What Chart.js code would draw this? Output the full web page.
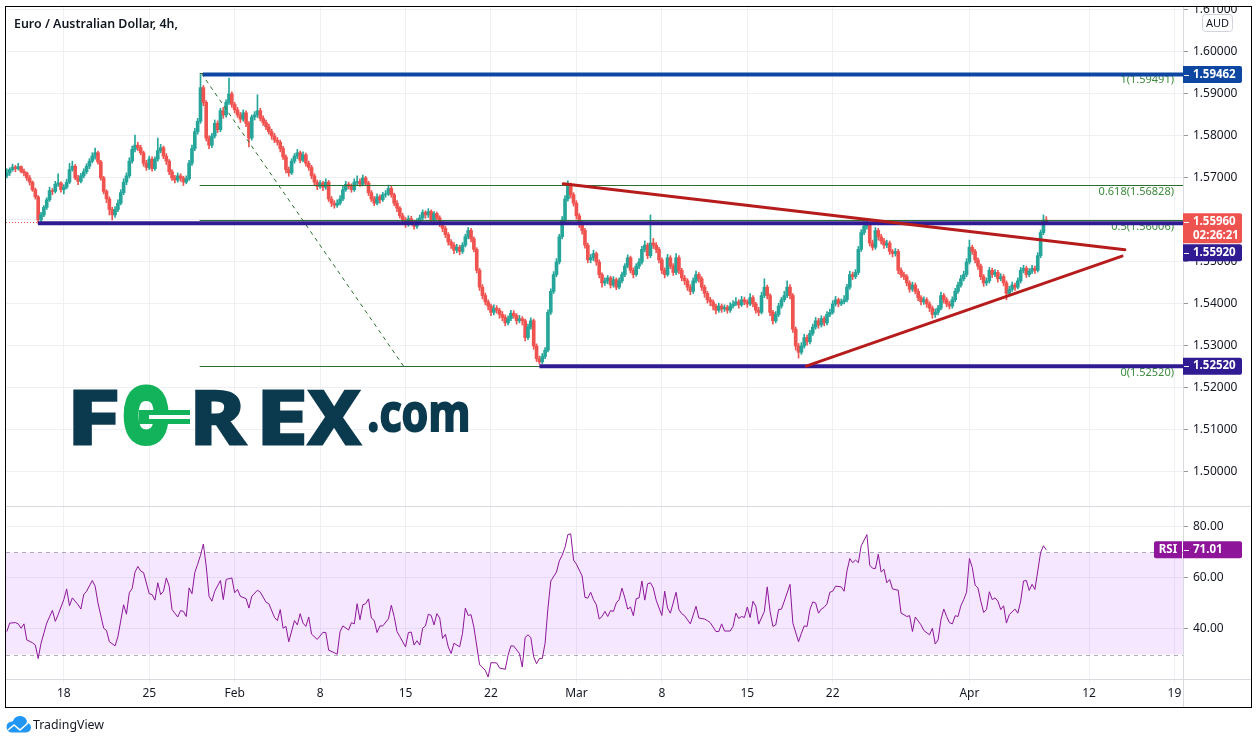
<!DOCTYPE html>
<html>
<head>
<meta charset="utf-8">
<title>Euro / Australian Dollar, 4h</title>
<script src="https://cdn.jsdelivr.net/npm/chart.js@4.4.1/dist/chart.umd.min.js"></script>
<style>
  html, body { margin: 0; padding: 0; background: #fff; }
  canvas { display: block; }
</style>
</head>
<body>
<canvas id="chart" width="1258" height="744"></canvas>
<script>
// EUR/AUD 4h candles, bar 0 = first visible bar (mid Jan)
const opens = [
  1.5705,1.5712,1.5720,1.5726,1.5722,1.5727,1.5716,1.5712,1.5700,1.5690,
  1.5672,1.5655,1.5600,1.5612,1.5630,1.5648,1.5670,1.5668,1.5685,1.5688,
  1.5672,1.5678,1.5690,1.5720,1.5728,1.5700,1.5692,1.5705,1.5715,1.5728,
  1.5740,1.5752,1.5760,1.5738,1.5700,1.5668,1.5650,1.5625,1.5612,1.5625,
  1.5640,1.5665,1.5690,1.5705,1.5740,1.5768,1.5778,1.5772,1.5760,1.5735,
  1.5725,1.5745,1.5722,1.5745,1.5765,1.5772,1.5752,1.5740,1.5715,1.5700,
  1.5695,1.5705,1.5700,1.5690,1.5698,1.5735,1.5770,1.5810,1.5835,1.5915,
  1.5880,1.5795,1.5778,1.5800,1.5830,1.5815,1.5860,1.5850,1.5880,1.5900,
  1.5875,1.5862,1.5850,1.5840,1.5855,1.5830,1.5795,1.5845,1.5850,1.5860,
  1.5842,1.5832,1.5822,1.5810,1.5800,1.5790,1.5785,1.5770,1.5750,1.5720,
  1.5712,1.5740,1.5752,1.5760,1.5742,1.5755,1.5735,1.5725,1.5705,1.5690,
  1.5680,1.5688,1.5678,1.5690,1.5650,1.5640,1.5635,1.5640,1.5650,1.5672,
  1.5685,1.5680,1.5672,1.5690,1.5692,1.5685,1.5700,1.5688,1.5665,1.5650,
  1.5640,1.5655,1.5648,1.5660,1.5662,1.5675,1.5660,1.5640,1.5628,1.5610,
  1.5600,1.5590,1.5603,1.5595,1.5585,1.5596,1.5605,1.5618,1.5612,1.5620,
  1.5600,1.5615,1.5605,1.5590,1.5580,1.5565,1.5548,1.5540,1.5528,1.5535,
  1.5525,1.5540,1.5560,1.5575,1.5555,1.5530,1.5480,1.5440,1.5420,1.5405,
  1.5395,1.5380,1.5390,1.5385,1.5375,1.5368,1.5355,1.5365,1.5378,1.5372,
  1.5360,1.5365,1.5360,1.5320,1.5345,1.5360,1.5300,1.5270,1.5262,1.5275,
  1.5290,1.5380,1.5430,1.5470,1.5500,1.5560,1.5600,1.5650,1.5680,1.5660,
  1.5640,1.5610,1.5590,1.5575,1.5540,1.5505,1.5510,1.5520,1.5500,1.5470,
  1.5450,1.5455,1.5462,1.5445,1.5458,1.5440,1.5455,1.5470,1.5490,1.5510,
  1.5480,1.5470,1.5490,1.5500,1.5530,1.5540,1.5515,1.5545,1.5540,1.5530,
  1.5505,1.5480,1.5470,1.5510,1.5490,1.5475,1.5510,1.5480,1.5462,1.5455,
  1.5440,1.5430,1.5455,1.5470,1.5460,1.5440,1.5425,1.5410,1.5405,1.5395,
  1.5385,1.5395,1.5388,1.5392,1.5385,1.5395,1.5400,1.5405,1.5398,1.5410,
  1.5405,1.5400,1.5415,1.5400,1.5385,1.5380,1.5420,1.5440,1.5420,1.5380,
  1.5360,1.5375,1.5395,1.5410,1.5420,1.5440,1.5420,1.5340,1.5300,1.5285,
  1.5300,1.5320,1.5310,1.5330,1.5345,1.5360,1.5350,1.5365,1.5355,1.5375,
  1.5380,1.5400,1.5410,1.5400,1.5405,1.5410,1.5440,1.5470,1.5465,1.5475,
  1.5530,1.5570,1.5585,1.5590,1.5545,1.5535,1.5575,1.5560,1.5550,1.5540,
  1.5545,1.5525,1.5520,1.5525,1.5480,1.5470,1.5465,1.5450,1.5435,1.5445,
  1.5430,1.5415,1.5405,1.5410,1.5400,1.5390,1.5375,1.5380,1.5390,1.5420,
  1.5410,1.5400,1.5395,1.5410,1.5430,1.5445,1.5460,1.5470,1.5500,1.5535,
  1.5525,1.5505,1.5490,1.5465,1.5450,1.5455,1.5480,1.5470,1.5475,1.5460,
  1.5465,1.5450,1.5425,1.5435,1.5445,1.5440,1.5455,1.5480,1.5485,1.5470,
  1.5478,1.5485,1.5480,1.5515,1.5570,1.5600
];
const highs = [
  1.5722,1.5724,1.5733,1.5730,1.5735,1.5729,1.5721,1.5714,1.5706,1.5693,
  1.5676,1.5658,1.5618,1.5634,1.5653,1.5678,1.5675,1.5692,1.5710,1.5691,
  1.5684,1.5697,1.5735,1.5740,1.5732,1.5706,1.5711,1.5722,1.5734,1.5746,
  1.5760,1.5771,1.5764,1.5742,1.5704,1.5672,1.5655,1.5630,1.5632,1.5648,
  1.5672,1.5698,1.5712,1.5748,1.5776,1.5802,1.5785,1.5778,1.5764,1.5742,
  1.5752,1.5750,1.5750,1.5795,1.5780,1.5776,1.5758,1.5744,1.5720,1.5706,
  1.5712,1.5710,1.5704,1.5705,1.5742,1.5778,1.5818,1.5842,1.5946,1.5920,
  1.5884,1.5800,1.5806,1.5838,1.5836,1.5866,1.5868,1.5886,1.5938,1.5905,
  1.5880,1.5868,1.5856,1.5862,1.5860,1.5834,1.5850,1.5858,1.5898,1.5866,
  1.5848,1.5838,1.5828,1.5816,1.5806,1.5796,1.5790,1.5775,1.5755,1.5726,
  1.5746,1.5758,1.5768,1.5764,1.5762,1.5759,1.5740,1.5730,1.5710,1.5695,
  1.5694,1.5692,1.5698,1.5694,1.5656,1.5646,1.5648,1.5658,1.5680,1.5692,
  1.5690,1.5686,1.5698,1.5705,1.5698,1.5707,1.5704,1.5692,1.5670,1.5656,
  1.5662,1.5660,1.5666,1.5670,1.5683,1.5680,1.5664,1.5646,1.5632,1.5616,
  1.5606,1.5610,1.5609,1.5600,1.5603,1.5612,1.5624,1.5622,1.5627,1.5624,
  1.5620,1.5619,1.5610,1.5596,1.5585,1.5570,1.5553,1.5546,1.5542,1.5540,
  1.5546,1.5566,1.5582,1.5580,1.5560,1.5534,1.5485,1.5446,1.5426,1.5410,
  1.5400,1.5398,1.5396,1.5390,1.5382,1.5374,1.5372,1.5385,1.5384,1.5377,
  1.5373,1.5370,1.5364,1.5352,1.5367,1.5364,1.5305,1.5276,1.5282,1.5296,
  1.5386,1.5436,1.5477,1.5508,1.5566,1.5608,1.5658,1.5693,1.5688,1.5665,
  1.5646,1.5615,1.5596,1.5580,1.5545,1.5518,1.5528,1.5524,1.5505,1.5474,
  1.5462,1.5468,1.5466,1.5465,1.5462,1.5462,1.5476,1.5496,1.5517,1.5514,
  1.5486,1.5496,1.5508,1.5537,1.5550,1.5545,1.5612,1.5556,1.5546,1.5535,
  1.5510,1.5486,1.5518,1.5515,1.5496,1.5520,1.5515,1.5485,1.5468,1.5460,
  1.5446,1.5462,1.5478,1.5475,1.5465,1.5445,1.5430,1.5416,1.5410,1.5400,
  1.5402,1.5400,1.5398,1.5397,1.5403,1.5408,1.5415,1.5410,1.5418,1.5416,
  1.5410,1.5425,1.5420,1.5404,1.5392,1.5428,1.5460,1.5445,1.5424,1.5385,
  1.5382,1.5402,1.5416,1.5430,1.5455,1.5446,1.5425,1.5345,1.5306,1.5308,
  1.5328,1.5326,1.5337,1.5352,1.5368,1.5366,1.5372,1.5370,1.5382,1.5388,
  1.5408,1.5418,1.5414,1.5412,1.5420,1.5447,1.5478,1.5476,1.5482,1.5537,
  1.5577,1.5601,1.5598,1.5594,1.5552,1.5582,1.5580,1.5566,1.5556,1.5552,
  1.5550,1.5530,1.5532,1.5530,1.5486,1.5476,1.5470,1.5455,1.5452,1.5450,
  1.5436,1.5420,1.5417,1.5415,1.5405,1.5395,1.5388,1.5397,1.5428,1.5425,
  1.5415,1.5406,1.5417,1.5437,1.5452,1.5468,1.5478,1.5508,1.5552,1.5540,
  1.5530,1.5510,1.5495,1.5470,1.5462,1.5487,1.5485,1.5482,1.5480,1.5472,
  1.5470,1.5455,1.5442,1.5452,1.5450,1.5462,1.5487,1.5492,1.5490,1.5484,
  1.5492,1.5490,1.5522,1.5576,1.5612,1.5608
];
const lows = [
  1.5700,1.5706,1.5716,1.5715,1.5719,1.5712,1.5705,1.5694,1.5683,1.5668,
  1.5650,1.5592,1.5596,1.5608,1.5625,1.5644,1.5660,1.5664,1.5680,1.5666,
  1.5662,1.5674,1.5686,1.5716,1.5696,1.5684,1.5688,1.5700,1.5710,1.5722,
  1.5736,1.5745,1.5733,1.5695,1.5662,1.5641,1.5612,1.5600,1.5606,1.5620,
  1.5636,1.5660,1.5684,1.5700,1.5735,1.5762,1.5765,1.5755,1.5728,1.5718,
  1.5720,1.5716,1.5718,1.5740,1.5760,1.5746,1.5732,1.5708,1.5694,1.5688,
  1.5690,1.5692,1.5682,1.5686,1.5694,1.5730,1.5765,1.5804,1.5830,1.5872,
  1.5788,1.5770,1.5772,1.5795,1.5808,1.5810,1.5842,1.5845,1.5875,1.5868,
  1.5855,1.5844,1.5832,1.5835,1.5822,1.5774,1.5790,1.5838,1.5844,1.5836,
  1.5825,1.5815,1.5804,1.5792,1.5784,1.5778,1.5762,1.5744,1.5712,1.5704,
  1.5708,1.5735,1.5746,1.5736,1.5738,1.5728,1.5718,1.5698,1.5684,1.5672,
  1.5675,1.5670,1.5673,1.5644,1.5632,1.5628,1.5630,1.5636,1.5646,1.5668,
  1.5674,1.5666,1.5668,1.5684,1.5680,1.5681,1.5682,1.5658,1.5644,1.5634,
  1.5636,1.5640,1.5644,1.5654,1.5658,1.5654,1.5634,1.5620,1.5604,1.5594,
  1.5582,1.5585,1.5588,1.5578,1.5580,1.5591,1.5600,1.5604,1.5606,1.5594,
  1.5596,1.5598,1.5584,1.5572,1.5558,1.5540,1.5532,1.5520,1.5522,1.5517,
  1.5520,1.5536,1.5555,1.5548,1.5524,1.5474,1.5432,1.5412,1.5398,1.5386,
  1.5372,1.5374,1.5378,1.5366,1.5360,1.5348,1.5350,1.5360,1.5366,1.5352,
  1.5355,1.5350,1.5312,1.5315,1.5340,1.5292,1.5263,1.5257,1.5258,1.5270,
  1.5286,1.5375,1.5425,1.5465,1.5495,1.5555,1.5594,1.5645,1.5652,1.5633,
  1.5602,1.5582,1.5566,1.5533,1.5498,1.5498,1.5503,1.5492,1.5462,1.5440,
  1.5444,1.5448,1.5438,1.5440,1.5434,1.5436,1.5450,1.5465,1.5486,1.5474,
  1.5462,1.5466,1.5484,1.5495,1.5524,1.5508,1.5510,1.5532,1.5522,1.5498,
  1.5472,1.5462,1.5466,1.5484,1.5468,1.5470,1.5472,1.5455,1.5446,1.5432,
  1.5422,1.5425,1.5450,1.5452,1.5432,1.5416,1.5402,1.5396,1.5386,1.5376,
  1.5380,1.5380,1.5382,1.5378,1.5380,1.5390,1.5396,1.5390,1.5394,1.5398,
  1.5392,1.5396,1.5393,1.5378,1.5372,1.5376,1.5415,1.5412,1.5372,1.5352,
  1.5355,1.5370,1.5390,1.5405,1.5415,1.5412,1.5332,1.5290,1.5271,1.5280,
  1.5295,1.5302,1.5305,1.5325,1.5340,1.5342,1.5345,1.5348,1.5350,1.5370,
  1.5376,1.5395,1.5393,1.5396,1.5400,1.5405,1.5435,1.5458,1.5460,1.5470,
  1.5525,1.5565,1.5578,1.5538,1.5528,1.5530,1.5552,1.5543,1.5532,1.5534,
  1.5518,1.5512,1.5514,1.5472,1.5463,1.5458,1.5443,1.5428,1.5430,1.5424,
  1.5408,1.5398,1.5399,1.5392,1.5382,1.5366,1.5368,1.5374,1.5386,1.5402,
  1.5393,1.5388,1.5390,1.5405,1.5425,1.5440,1.5455,1.5465,1.5495,1.5518,
  1.5498,1.5482,1.5458,1.5442,1.5444,1.5450,1.5463,1.5465,1.5452,1.5455,
  1.5443,1.5410,1.5420,1.5430,1.5432,1.5436,1.5450,1.5474,1.5463,1.5465,
  1.5472,1.5473,1.5476,1.5510,1.5565,1.5592
];
const closes = [
  1.5712,1.5720,1.5726,1.5722,1.5727,1.5716,1.5712,1.5700,1.5690,1.5672,
  1.5655,1.5600,1.5612,1.5630,1.5648,1.5670,1.5668,1.5685,1.5688,1.5672,
  1.5678,1.5690,1.5720,1.5728,1.5700,1.5692,1.5705,1.5715,1.5728,1.5740,
  1.5752,1.5760,1.5738,1.5700,1.5668,1.5650,1.5625,1.5612,1.5625,1.5640,
  1.5665,1.5690,1.5705,1.5740,1.5768,1.5778,1.5772,1.5760,1.5735,1.5725,
  1.5745,1.5722,1.5745,1.5765,1.5772,1.5752,1.5740,1.5715,1.5700,1.5695,
  1.5705,1.5700,1.5690,1.5698,1.5735,1.5770,1.5810,1.5835,1.5915,1.5880,
  1.5795,1.5778,1.5800,1.5830,1.5815,1.5860,1.5850,1.5880,1.5900,1.5875,
  1.5862,1.5850,1.5840,1.5855,1.5830,1.5795,1.5845,1.5850,1.5860,1.5842,
  1.5832,1.5822,1.5810,1.5800,1.5790,1.5785,1.5770,1.5750,1.5720,1.5712,
  1.5740,1.5752,1.5760,1.5742,1.5755,1.5735,1.5725,1.5705,1.5690,1.5680,
  1.5688,1.5678,1.5690,1.5650,1.5640,1.5635,1.5640,1.5650,1.5672,1.5685,
  1.5680,1.5672,1.5690,1.5692,1.5685,1.5700,1.5688,1.5665,1.5650,1.5640,
  1.5655,1.5648,1.5660,1.5662,1.5675,1.5660,1.5640,1.5628,1.5610,1.5600,
  1.5590,1.5603,1.5595,1.5585,1.5596,1.5605,1.5618,1.5612,1.5620,1.5600,
  1.5615,1.5605,1.5590,1.5580,1.5565,1.5548,1.5540,1.5528,1.5535,1.5525,
  1.5540,1.5560,1.5575,1.5555,1.5530,1.5480,1.5440,1.5420,1.5405,1.5395,
  1.5380,1.5390,1.5385,1.5375,1.5368,1.5355,1.5365,1.5378,1.5372,1.5360,
  1.5365,1.5360,1.5320,1.5345,1.5360,1.5300,1.5270,1.5262,1.5275,1.5290,
  1.5380,1.5430,1.5470,1.5500,1.5560,1.5600,1.5650,1.5680,1.5660,1.5640,
  1.5610,1.5590,1.5575,1.5540,1.5505,1.5510,1.5520,1.5500,1.5470,1.5450,
  1.5455,1.5462,1.5445,1.5458,1.5440,1.5455,1.5470,1.5490,1.5510,1.5480,
  1.5470,1.5490,1.5500,1.5530,1.5540,1.5515,1.5545,1.5540,1.5530,1.5505,
  1.5480,1.5470,1.5510,1.5490,1.5475,1.5510,1.5480,1.5462,1.5455,1.5440,
  1.5430,1.5455,1.5470,1.5460,1.5440,1.5425,1.5410,1.5405,1.5395,1.5385,
  1.5395,1.5388,1.5392,1.5385,1.5395,1.5400,1.5405,1.5398,1.5410,1.5405,
  1.5400,1.5415,1.5400,1.5385,1.5380,1.5420,1.5440,1.5420,1.5380,1.5360,
  1.5375,1.5395,1.5410,1.5420,1.5440,1.5420,1.5340,1.5300,1.5285,1.5300,
  1.5320,1.5310,1.5330,1.5345,1.5360,1.5350,1.5365,1.5355,1.5375,1.5380,
  1.5400,1.5410,1.5400,1.5405,1.5410,1.5440,1.5470,1.5465,1.5475,1.5530,
  1.5570,1.5585,1.5590,1.5545,1.5535,1.5575,1.5560,1.5550,1.5540,1.5545,
  1.5525,1.5520,1.5525,1.5480,1.5470,1.5465,1.5450,1.5435,1.5445,1.5430,
  1.5415,1.5405,1.5410,1.5400,1.5390,1.5375,1.5380,1.5390,1.5420,1.5410,
  1.5400,1.5395,1.5410,1.5430,1.5445,1.5460,1.5470,1.5500,1.5535,1.5525,
  1.5505,1.5490,1.5465,1.5450,1.5455,1.5480,1.5470,1.5475,1.5460,1.5465,
  1.5450,1.5425,1.5435,1.5445,1.5440,1.5455,1.5480,1.5485,1.5470,1.5478,
  1.5485,1.5480,1.5515,1.5570,1.5600,1.5596
];

// RSI(14) readings, sampled along the line
const rsiBars = [
  0,1,3,4,5,6,7,9,10,11,12,14,16,17,18,20,21,22,23,25,26,27,28,30,31,32,34,35,36,38,39,
  41,42,43,44,45,46,47,48,50,51,52,53,54,55,56,57,58,60,61,62,63,64,65,66,67,68,69,70,
  71,72,73,75,76,77,79,80,81,82,84,85,86,88,89,91,92,94,95,96,97,98,99,101,102,103,104,
  105,106,107,109,111,112,113,115,116,117,118,120,121,122,123,124,125,126,127,128,129,
  130,131,132,134,135,136,137,138,140,141,142,143,144,145,146,147,148,149,150,151,152,
  153,154,155,156,157,159,160,161,162,163,164,166,168,169,170,172,173,175,176,177,178,
  180,181,182,183,184,185,186,187,188,189,190,191,193,194,195,196,197,198,199,200,202,
  203,204,205,206,207,208,209,210,211,212,213,214,215,216,217,218,219,220,221,222,223,
  224,225,226,227,228,230,231,232,233,235,236,237,238,240,242,243,245,246,247,249,250,
  251,252,254,255,256,257,258,259,260,261,262,263,264,266,267,268,269,270,271,272,273,
  275,276,278,279,280,281,282,283,284,285,286,287,288,289,290,291,293,294,295,296,297,
  298,299,300,302,303,304,305,306,307,308,309,310,311,313,314,315,316,317,318,319,321,
  322,324,325,326,327,328,329,330,331,332,333,334,335,336,337,338,339,340,341,342,343,
  344,345,346,347,348,349,350,351,352,354,355,356,357,358,359,360,361,362,363,364,365
];
const rsiValues = [
  39,42.3,42.5,42,40.3,42,35.7,34.6,33.7,28.4,34.4,42.3,47.3,43,45.6,51.5,55.7,49.1,52.2,49.5,47.8,53.5,54.8,59,56.8,50.2,40.3,39.4,35,33.4,37,
  49.5,45.8,54.2,55.9,62.3,64.5,62.7,62.1,53.8,53.5,51.3,58.1,53.5,54.8,60,56.8,47.6,44.7,47.2,46.9,44.9,56.1,53.8,62.1,65.4,68.9,73.3,64.7,
  52.8,50.9,54.8,59,51.5,59.4,60,54.2,55.5,52.8,51.9,48.2,52.8,55.2,54.4,50.5,49.9,44.5,43.3,47.6,40.3,41,35,43.3,41.6,46,42.3,
  41,44.7,38,35.9,38.7,38.6,31.7,30.7,30.1,39,41.2,39.6,42.5,42,49.9,43.6,49.5,49.9,51.8,44.3,43.3,
  38.6,41.2,41.2,44,49.3,44.9,39,37,33,38.6,38.8,33.7,35.4,33.7,40.3,41.2,45.8,45.3,41.6,46,44.3,
  36.3,37.9,33,30.4,34.4,33,38.3,48.2,45.3,45.6,40.7,26,23.8,21.2,26.8,26.7,24.7,24.2,29.7,33.4,33.3,
  30.4,25.1,36.7,37.7,36.6,29.1,26.4,28.4,28.4,34.4,48.2,58.8,62.3,66.7,68.9,72,77,77.3,67,65.4,60.8,
  52.4,52.1,54.4,51.5,49.5,43.9,44.9,46.9,44.9,47.2,46.9,50.2,51.5,56,52.2,47.8,48.6,45.2,51.9,52.2,58.8,
  51.3,57.7,58.1,56.1,51.3,45.3,54.8,48.2,46.2,54.4,47.6,46,45.2,42,48.9,44.3,43.9,43.3,42.5,39,39,
  42,39.2,39.2,41,46.2,44.1,44.9,44.5,48.6,44.5,50.9,48.9,41.9,46.9,56.5,46.9,41,41.6,47.6,47.8,50.9,
  57.5,42.3,35,38.3,41.2,41,47.6,50.6,50.2,46.2,47.8,48.5,49.9,54.4,54.8,56.8,56.5,54.8,62.7,67.6,66,
  67,66,72.6,77,65,63.8,63.7,69.3,62.3,63.4,58.1,59.4,55.7,55.2,46.2,45.6,44.9,45.2,39,44.7,41.6,
  39.4,37.7,40.3,34.1,35.7,43.6,47.8,44.9,42.5,42,45.2,44.9,49.1,51.5,54.4,67.6,64.1,57.2,56.1,50.9,46.5,
  47.6,54.6,51.5,52.2,50.9,47.6,49.1,42.3,45.6,47.8,46.2,50.9,58.8,59,55.1,57.5,55.5,62.7,70,72.6,71.01
];

const dateTickBars = [20, 50, 80, 110, 140, 170, 200, 230, 260, 290, 338, 380, 410];
const dateTickLabels = ['18', '25', 'Feb', '8', '15', '22', 'Mar', '8', '15', '22', 'Apr', '12', '19'];
const priceTicks = [1.50, 1.51, 1.52, 1.53, 1.54, 1.55, 1.56, 1.57, 1.58, 1.59, 1.60, 1.61];
const rsiTicks = [40, 60, 80];

const barAxisMin = -0.3, barAxisMax = 413;
const priceAxisMin = 1.4919, priceAxisMax = 1.6107;
const rsiAxisMin = 20.4, rsiAxisMax = 88.2;
const rsiUpper = 70, rsiLower = 30;

// drawings
const lastPrice = 1.5596, countdown = '02:26:21';
const fibLevels = [1, 0.618, 0.5, 0];
const fibPrices = [1.59491, 1.56828, 1.56006, 1.52520];
const fibStartBar = 67.7;
const fibDiagonal = [[68.3, 1.59491], [139.3, 1.52520]];
const rays = [
  { price: 1.5592, from: 10.9, color: '#311b92' },
  { price: 1.59462, from: 68.8, color: '#0d47a1' },
  { price: 1.5252, from: 187, color: '#311b92' }
];
const trendLines = [
  [[195.4, 1.5686], [392.6, 1.5529]],
  [[280.7, 1.5252], [391.6, 1.5514]]
];
const lastRsi = 71.01;

Chart.defaults.font.family = '"Noto Sans", sans-serif';

const upColor = '#26a69a', downColor = '#ef5350';
const candleColors = closes.map((c, i) => (c >= opens[i] ? upColor : downColor));
const wickPoints = closes.map((c, i) => ({ x: i, y: [lows[i], highs[i]] }));
const bodyPoints = closes.map((c, i) => ({ x: i, y: [opens[i], c] }));
const rsiPoints = rsiBars.map((b, k) => ({ x: b, y: rsiValues[k] }));

function strokeLine(ctx, x0, y0, x1, y1) {
  ctx.beginPath();
  ctx.moveTo(x0, y0);
  ctx.lineTo(x1, y1);
  ctx.stroke();
}

// draws txt so its ink spans left..right, optionally thickened with a stroke
function stretchText(ctx, txt, left, right, baseline, weight) {
  const m = ctx.measureText(txt);
  const ink = m.actualBoundingBoxLeft + m.actualBoundingBoxRight;
  const sx = (right - left) / ink;
  ctx.save();
  ctx.translate(left + m.actualBoundingBoxLeft * sx, baseline);
  ctx.scale(sx, 1);
  ctx.fillText(txt, 0, 0);
  if (weight) {
    ctx.lineWidth = weight;
    ctx.lineJoin = 'miter';
    ctx.strokeStyle = ctx.fillStyle;
    ctx.strokeText(txt, 0, 0);
  }
  ctx.restore();
}

function priceTag(ctx, left, top, h, bg, lines) {
  ctx.fillStyle = bg;
  ctx.beginPath();
  ctx.roundRect(left, top, 59, h, [0, 2, 2, 0]);
  ctx.fill();
  const yc = top + 8.5;
  ctx.strokeStyle = '#fff';
  ctx.lineWidth = 1;
  strokeLine(ctx, left + 1, Math.round(yc) + 0.5, left + 6, Math.round(yc) + 0.5);
  ctx.fillStyle = '#fff';
  ctx.font = 'bold 11.5px "Noto Sans"';
  ctx.textAlign = 'left';
  ctx.textBaseline = 'middle';
  lines.forEach((t, k) => ctx.fillText(t, left + 10, yc + k * 14));
}

function drawForexLogo(ctx) {
  const navy = '#0b3a4e', green = '#12b35a';
  ctx.save();
  ctx.font = 'bold 74px "Noto Sans"';
  ctx.textAlign = 'left';
  ctx.textBaseline = 'alphabetic';
  const letters = [['F', 73, 117, navy, 3], ['O', 123, 170, green, 7], ['R', 195, 247, navy, 3],
                   ['E', 262, 305, navy, 3], ['X', 307, 362, navy, 3]];
  letters.forEach(([t, l, r, c, w]) => {
    ctx.fillStyle = c;
    stretchText(ctx, t, l + w / 2, r - w / 2, 445 - w / 2, w);
  });
  // the "=" stroke through the O
  ctx.fillStyle = green;
  ctx.fillRect(139, 410, 51, 14);
  ctx.fillStyle = '#fff';
  ctx.fillRect(149, 415, 42, 4);
  ctx.fillStyle = navy;
  ctx.font = 'bold 52px "Noto Sans"';
  stretchText(ctx, '.com', 369, 468, 431, 2);
  ctx.restore();
}

function drawTradingViewLogo(ctx) {
  ctx.save();
  ctx.fillStyle = '#2196f3';
  ctx.beginPath();
  ctx.arc(12, 727, 5.5, Math.PI * 0.5, Math.PI * 1.5);
  ctx.arc(20, 723.5, 7.5, Math.PI * 1.1, Math.PI * 1.9);
  ctx.arc(26, 727.5, 5, Math.PI * 1.5, Math.PI * 0.5);
  ctx.closePath();
  ctx.fill();
  ctx.strokeStyle = '#fff';
  ctx.lineWidth = 1.6;
  ctx.beginPath();
  ctx.moveTo(8, 730); ctx.lineTo(14, 725); ctx.lineTo(20, 730); ctx.lineTo(28, 723);
  ctx.stroke();
  ctx.fillStyle = '#131722';
  ctx.font = '13px "Noto Sans"';
  ctx.textAlign = 'left';
  ctx.textBaseline = 'middle';
  ctx.fillText('TradingView', 33, 725.5, 71);
  ctx.restore();
}

const drawings = {
  id: 'drawings',
  beforeDatasetsDraw(chart) {
    const { ctx, chartArea: a, scales: { rsi } } = chart;
    const y70 = rsi.getPixelForValue(rsiUpper), y30 = rsi.getPixelForValue(rsiLower);
    ctx.save();
    ctx.fillStyle = 'rgba(153, 21, 255, 0.1)';
    ctx.fillRect(a.left, y70, a.right - a.left, y30 - y70);
    ctx.setLineDash([4, 4]);
    ctx.strokeStyle = 'rgba(120, 123, 134, 0.6)';
    ctx.lineWidth = 1;
    [y70, y30].forEach(v => strokeLine(ctx, a.left, Math.round(v) + 0.5, a.right, Math.round(v) + 0.5));
    ctx.restore();
    drawForexLogo(ctx);
  },
  afterDatasetsDraw(chart) {
    const { ctx, chartArea: a, scales: { x, y } } = chart;
    const X = v => x.getPixelForValue(v), Y = v => y.getPixelForValue(v);
    ctx.save();
    ctx.beginPath();
    ctx.rect(a.left, a.top, a.right - a.left, y.bottom - a.top);
    ctx.clip();

    // fib retracement
    ctx.strokeStyle = '#2c6e2f';
    ctx.lineWidth = 1;
    fibPrices.forEach(p => {
      const py = Math.round(Y(p)) + 0.5;
      strokeLine(ctx, X(fibStartBar), py, a.right, py);
    });
    ctx.fillStyle = '#3d8b3d';
    ctx.font = '11px "Noto Sans"';
    ctx.textAlign = 'right';
    ctx.textBaseline = 'top';
    fibLevels.forEach((lv, k) => ctx.fillText(lv + '(' + fibPrices[k].toFixed(5) + ')', a.right - 9, Y(fibPrices[k]) + 1.5));
    ctx.setLineDash([4, 4]);
    strokeLine(ctx, X(fibDiagonal[0][0]), Y(fibDiagonal[0][1]), X(fibDiagonal[1][0]), Y(fibDiagonal[1][1]));
    ctx.setLineDash([]);

    // current price line (only visible left of the support ray)
    ctx.strokeStyle = '#ef5350';
    ctx.setLineDash([1, 2]);
    strokeLine(ctx, a.left, Math.round(Y(lastPrice)) + 0.5, X(rays[0].from), Math.round(Y(lastPrice)) + 0.5);
    ctx.setLineDash([]);

    // horizontal rays
    ctx.lineWidth = 4;
    rays.forEach(r => {
      ctx.strokeStyle = r.color;
      strokeLine(ctx, X(r.from), Y(r.price), a.right, Y(r.price));
    });

    // triangle
    ctx.strokeStyle = '#b71c1c';
    ctx.lineWidth = 3;
    ctx.lineCap = 'round';
    trendLines.forEach(([p0, p1]) => strokeLine(ctx, X(p0[0]), Y(p0[1]), X(p1[0]), Y(p1[1])));
    ctx.restore();
  },
  afterDraw(chart) {
    const { ctx, chartArea: a, scales: { x, y, rsi } } = chart;
    const Y = v => y.getPixelForValue(v);
    const axisRight = a.right + 68;
    ctx.save();

    // pane separators
    ctx.strokeStyle = '#d8dae0';
    ctx.lineWidth = 1;
    strokeLine(ctx, a.left, Math.round(rsi.top) + 0.5, axisRight, Math.round(rsi.top) + 0.5);
    strokeLine(ctx, a.left, Math.round(a.bottom) + 0.5, axisRight, Math.round(a.bottom) + 0.5);
    strokeLine(ctx, Math.round(a.right) + 0.5, a.top, Math.round(a.right) + 0.5, x.bottom);

    // axis tags
    priceTag(ctx, a.right, Y(1.59462) - 8.5, 17, '#0d47a1', ['1.59462']);
    const redTop = Y(lastPrice) - 8.5;
    priceTag(ctx, a.right, redTop, 30, '#ef5350', [lastPrice.toFixed(5), countdown]);
    priceTag(ctx, a.right, redTop + 31, 17, '#311b92', ['1.55920']);
    priceTag(ctx, a.right, Y(1.5252) - 8.5, 17, '#311b92', ['1.52520']);

    // RSI tags
    const ry = rsi.getPixelForValue(lastRsi);
    priceTag(ctx, a.right, ry - 8.5, 17, '#8e1599', [lastRsi.toFixed(2)]);
    ctx.fillStyle = '#8e1599';
    ctx.beginPath();
    ctx.roundRect(a.right - 29, ry - 8.5, 28, 17, [2, 0, 0, 2]);
    ctx.fill();
    ctx.fillStyle = '#fff';
    ctx.font = 'bold 11.5px "Noto Sans"';
    ctx.textAlign = 'center';
    ctx.textBaseline = 'middle';
    ctx.fillText('RSI', a.right - 15, ry);

    // currency badge
    ctx.fillStyle = '#fff';
    ctx.strokeStyle = '#d1d4dc';
    ctx.beginPath();
    ctx.roundRect(a.right + 19.5, 14.5, 30, 17, 3);
    ctx.fill();
    ctx.stroke();
    ctx.fillStyle = '#131722';
    ctx.font = '11px "Noto Sans"';
    ctx.fillText('AUD', a.right + 34.5, 23.5);

    // outer frame
    ctx.fillStyle = '#fff';
    ctx.fillRect(0, 0, 1258, a.top - 0.5);
    ctx.strokeStyle = '#000';
    ctx.lineWidth = 1;
    ctx.strokeRect(a.left - 0.5, a.top - 0.5, axisRight - a.left + 1, x.bottom - a.top + 1);

    // title
    ctx.fillStyle = '#131722';
    ctx.font = '600 13px "Noto Sans"';
    ctx.textAlign = 'left';
    ctx.textBaseline = 'middle';
    ctx.fillText('Euro / Australian Dollar, 4h,', 14, 24.5, 164);
    ctx.restore();

    drawTradingViewLogo(ctx);
  }
};

new Chart(document.getElementById('chart'), {
  type: 'bar',
  data: {
    datasets: [
      { type: 'line', label: 'RSI', data: rsiPoints, xAxisID: 'x', yAxisID: 'rsi',
        borderColor: '#8e1599', borderWidth: 1, pointRadius: 0, tension: 0, order: 0 },
      { label: 'wick', data: wickPoints, xAxisID: 'x', yAxisID: 'y', backgroundColor: candleColors,
        barThickness: 1, grouped: false, order: 2 },
      { label: 'body', data: bodyPoints, xAxisID: 'x', yAxisID: 'y', backgroundColor: candleColors,
        barThickness: 3, grouped: false, order: 1 }
    ]
  },
  options: {
    responsive: false,
    animation: false,
    devicePixelRatio: 1,
    events: [],
    layout: { padding: { left: 6, right: 7, top: 7, bottom: 37 } },
    plugins: { legend: { display: false }, tooltip: { enabled: false } },
    scales: {
      x: {
        type: 'linear', min: barAxisMin, max: barAxisMax, offset: false,
        grid: { color: '#eef0f4', offset: false, tickLength: 4 },
        border: { display: false },
        ticks: { autoSkip: false, maxRotation: 0, color: '#131722', font: { size: 12 }, padding: 3,
                 callback: (v, i) => dateTickLabels[i] },
        afterBuildTicks: s => { s.ticks = dateTickBars.map(v => ({ value: v })); },
        afterFit: s => { s.height = 28; s.paddingLeft = 0; s.paddingRight = 0; }
      },
      y: {
        type: 'linear', position: 'right', stack: 'panes', stackWeight: 499,
        min: priceAxisMin, max: priceAxisMax,
        grid: { color: '#eef0f4', tickLength: 5, tickColor: '#9598a1' },
        border: { display: false },
        ticks: { color: '#131722', font: { size: 12 }, padding: 5, autoSkip: false, callback: v => v.toFixed(5) },
        afterBuildTicks: s => { s.ticks = priceTicks.map(v => ({ value: v })); },
        afterFit: s => { s.width = 68; s.paddingTop = 0; s.paddingBottom = 0; }
      },
      rsi: {
        type: 'linear', position: 'right', stack: 'panes', stackWeight: 173,
        min: rsiAxisMin, max: rsiAxisMax,
        grid: { color: '#eef0f4', tickLength: 5, tickColor: '#9598a1' },
        border: { display: false },
        ticks: { color: '#131722', font: { size: 12 }, padding: 5, autoSkip: false, callback: v => v.toFixed(2) },
        afterBuildTicks: s => { s.ticks = rsiTicks.map(v => ({ value: v })); },
        afterFit: s => { s.width = 68; s.paddingTop = 0; s.paddingBottom = 0; }
      }
    }
  },
  plugins: [drawings]
});
</script>
</body>
</html>
